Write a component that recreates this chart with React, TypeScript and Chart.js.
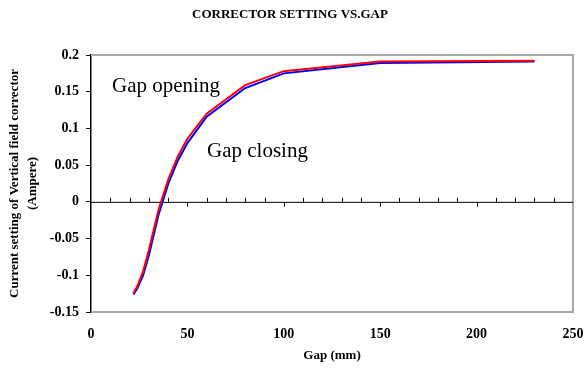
import React, { useEffect, useRef } from "react";
import { Chart, registerables } from "chart.js";

Chart.register(...registerables);

const chartTitle = "CORRECTOR SETTING VS.GAP";
const yTitleLines = ["Current setting of Vertical field corrector", "(Ampere)"];
const xTitle = "Gap (mm)";
const labelOpening = "Gap opening";
const labelClosing = "Gap closing";

const gapOpening = [22, 24, 27, 30, 35, 40, 45, 50, 60, 80, 100, 150, 230];
const currentOpening = [-0.124, -0.115, -0.095, -0.066, -0.011, 0.03, 0.062, 0.086, 0.12, 0.159, 0.178, 0.191, 0.192];
const gapClosing = [22, 24, 27, 30, 35, 40, 45, 50, 60, 80, 100, 150, 230];
const currentClosing = [-0.126, -0.118, -0.1, -0.073, -0.018, 0.024, 0.056, 0.08, 0.116, 0.155, 0.175, 0.189, 0.191];

const FONT = "'Liberation Serif', 'Times New Roman', serif";

const decorPlugin = {
  id: "decor",
  beforeDatasetsDraw(chart: any) {
    const { ctx, chartArea, scales } = chart;
    const { left, right, top, bottom } = chartArea;
    ctx.save();
    ctx.strokeStyle = "#a8a8a8";
    ctx.lineWidth = 2;
    ctx.beginPath();
    ctx.moveTo(left, top);
    ctx.lineTo(right, top);
    ctx.lineTo(right, bottom);
    ctx.lineTo(left, bottom);
    ctx.stroke();
    const y0 = scales.y.getPixelForValue(0);
    ctx.strokeStyle = "#000";
    ctx.lineWidth = 1;
    ctx.beginPath();
    ctx.moveTo(left, y0 + 0.5);
    ctx.lineTo(right, y0 + 0.5);
    for (let v = 10; v < 250; v += 10) {
      const px = Math.round(scales.x.getPixelForValue(v)) + 0.5;
      if (v % 50 === 0) {
        ctx.moveTo(px, y0);
        ctx.lineTo(px, y0 + 5);
      } else {
        ctx.moveTo(px, y0 - 4);
        ctx.lineTo(px, y0);
      }
    }
    ctx.stroke();
    ctx.restore();
  },
  afterDraw(chart: any) {
    const { ctx, chartArea } = chart;
    const { left, right, top, bottom } = chartArea;
    ctx.save();
    ctx.fillStyle = "#000";
    ctx.textAlign = "center";
    ctx.textBaseline = "middle";
    ctx.font = `bold 13px ${FONT}`;
    ctx.fillText(chartTitle, 290, 15);
    ctx.font = `bold 13px ${FONT}`;
    ctx.fillText(xTitle, (left + right) / 2, 356);
    ctx.save();
    ctx.translate(15, (top + bottom) / 2);
    ctx.rotate(-Math.PI / 2);
    ctx.font = `bold 13px ${FONT}`;
    ctx.fillText(yTitleLines[0], 0, 0);
    ctx.fillText(yTitleLines[1], 0, 18);
    ctx.restore();
    ctx.font = `21px ${FONT}`;
    ctx.textAlign = "left";
    ctx.fillText(labelOpening, 112, 86);
    ctx.fillText(labelClosing, 207, 151);
    ctx.restore();
  },
};

export default function App() {
  const ref = useRef<HTMLCanvasElement>(null);
  useEffect(() => {
    if (!ref.current) return;
    const chart = new Chart(ref.current, {
      type: "scatter",
      data: {
        datasets: [
          {
            label: labelOpening,
            data: gapOpening.map((g, i) => ({ x: g, y: currentOpening[i] })),
            showLine: true,
            borderColor: "#ff0000",
            backgroundColor: "#ff0000",
            borderWidth: 2,
            pointRadius: 0,
            tension: 0,
          },
          {
            label: labelClosing,
            data: gapClosing.map((g, i) => ({ x: g, y: currentClosing[i] })),
            showLine: true,
            borderColor: "#0000ff",
            backgroundColor: "#0000ff",
            borderWidth: 2,
            pointRadius: 0,
            tension: 0,
          },
        ],
      },
      options: {
        animation: false,
        responsive: false,
        maintainAspectRatio: false,
        layout: { padding: { top: 55, right: 11, left: 0, bottom: 0 } },
        plugins: { legend: { display: false }, title: { display: false }, tooltip: { enabled: false } },
        scales: {
          x: {
            type: "linear",
            min: 0,
            max: 250,
            afterFit: (s: any) => { s.height = 56; s.paddingLeft = 0; s.paddingRight = 0; },
            ticks: { stepSize: 50, color: "#000", font: { family: FONT, size: 14, weight: "bold" }, padding: 14, maxRotation: 0 },
            grid: { display: false, drawTicks: false },
            border: { display: false },
          },
          y: {
            type: "linear",
            min: -0.15,
            max: 0.2,
            afterFit: (s: any) => { s.width = 91; s.paddingTop = 0; s.paddingBottom = 0; },
            ticks: {
              stepSize: 0.05,
              color: "#000",
              font: { family: FONT, size: 14, weight: "bold" },
              padding: 7,
              callback: (v: any) => String(Math.round(Number(v) * 100) / 100),
            },
            grid: { display: true, drawOnChartArea: false, drawTicks: true, tickLength: 5, color: "#000" },
            border: { display: true, color: "#000", width: 1.5 },
          },
        },
      },
      plugins: [decorPlugin],
    });
    return () => chart.destroy();
  }, []);
  return (
    <div style={{ position: "fixed", left: 0, top: 0, width: 584, height: 368, background: "#fff" }}>
      <canvas ref={ref} width={584} height={368} style={{ width: 584, height: 368 }} />
    </div>
  );
}
